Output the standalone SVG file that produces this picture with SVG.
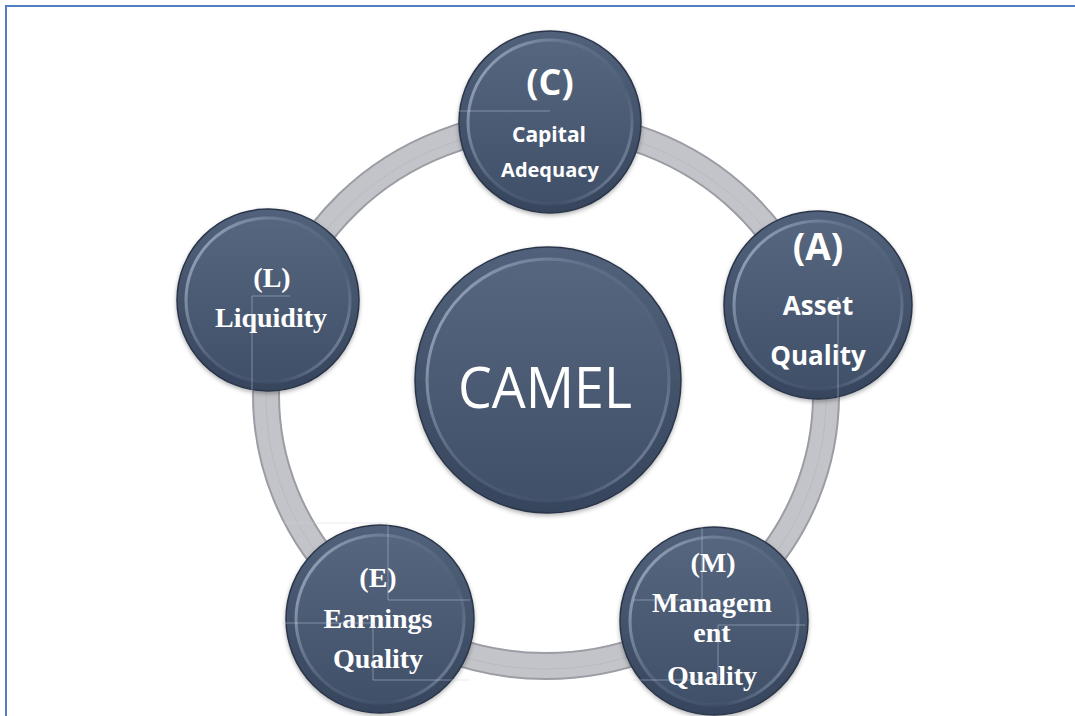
<svg xmlns="http://www.w3.org/2000/svg" width="1075" height="716" viewBox="0 0 1075 716">
  <defs>
    <linearGradient id="face" x1="0" y1="0" x2="0" y2="1">
      <stop offset="0" stop-color="#56667f"/>
      <stop offset="1" stop-color="#405069"/>
    </linearGradient>
    <linearGradient id="rim" x1="0" y1="0" x2="0" y2="1">
      <stop offset="0" stop-color="#52627b"/>
      <stop offset="1" stop-color="#36455c"/>
    </linearGradient>
    <linearGradient id="bevel" x1="0" y1="0.2" x2="1" y2="0.8">
      <stop offset="0" stop-color="#b4c2d4" stop-opacity="0.75"/>
      <stop offset="0.4" stop-color="#8696ae" stop-opacity="0.3"/>
      <stop offset="0.75" stop-color="#6d7d96" stop-opacity="0.15"/>
      <stop offset="1" stop-color="#a8b6ca" stop-opacity="0.65"/>
    </linearGradient>
    <filter id="shadow" x="-20%" y="-20%" width="140%" height="140%">
      <feDropShadow dx="0" dy="2" stdDeviation="2" flood-color="#000" flood-opacity="0.3"/>
    </filter>
  </defs>
  <style>
    .frame { fill: none; stroke: #4f7ec2; stroke-width: 2; }
    .rimc { fill: url(#rim); stroke: #2b3649; stroke-width: 1.5; filter: url(#shadow); }
    .bev { fill: none; stroke: url(#bevel); stroke-width: 3; }
    .facec { fill: url(#face); }
    .sans { font-family: "Open Sans", "Liberation Sans", sans-serif; font-weight: bold; fill: #ffffff; text-anchor: middle; }
    .serif { font-family: "Liberation Serif", "DejaVu Serif", serif; font-weight: bold; fill: #ffffff; text-anchor: middle; font-size: 28px; }
    .grid { stroke: #c9d2de; stroke-width: 1; fill: none; opacity: 0.45; }
  </style>

  <rect x="0" y="0" width="1075" height="716" fill="#ffffff"/>
  <rect class="frame" x="6" y="6" width="1100" height="760"/>

  <!-- grey ring linking the five factors -->
  <g id="connectors">
    <ellipse cx="546" cy="395" rx="280" ry="271" fill="none" stroke="#9b9da4" stroke-width="28"/>
    <ellipse cx="546" cy="395" rx="280" ry="271" fill="none" stroke="#c3c4c9" stroke-width="24"/>
    <ellipse cx="546" cy="398" rx="280" ry="271" fill="none" stroke="#b2b4ba" stroke-width="1" opacity="0.6"/>
  </g>

  <g id="node-camel">
    <circle class="rimc" cx="548" cy="380" r="133"/>
    <circle class="facec" cx="548" cy="380" r="120"/>
    <circle class="bev" cx="548" cy="380" r="121"/>
    <text x="545" y="408" font-family="Open Sans, Liberation Sans, sans-serif" font-size="56" fill="#ffffff" text-anchor="middle" textLength="174" lengthAdjust="spacingAndGlyphs">CAMEL</text>
  </g>

  <g id="node-c">
    <circle class="rimc" cx="550" cy="122" r="91"/>
    <circle class="facec" cx="550" cy="122" r="81"/>
    <circle class="bev" cx="550" cy="122" r="82"/>
    <text class="sans" x="550" y="95" font-size="36">(C)</text>
    <text class="sans" x="549" y="142" font-size="21">Capital</text>
    <text class="sans" x="550" y="177" font-size="20">Adequacy</text>
  </g>

  <g id="node-a">
    <circle class="rimc" cx="818" cy="305" r="94"/>
    <circle class="facec" cx="818" cy="305" r="83"/>
    <circle class="bev" cx="818" cy="305" r="84"/>
    <text class="sans" x="818" y="260" font-size="37">(A)</text>
    <text class="sans" x="818" y="315" font-size="26">Asset</text>
    <text class="sans" x="818" y="365" font-size="26">Quality</text>
  </g>

  <g id="node-m">
    <circle class="rimc" cx="714" cy="621" r="94"/>
    <circle class="facec" cx="714" cy="621" r="83"/>
    <circle class="bev" cx="714" cy="621" r="84"/>
    <text class="serif" x="713" y="572">(M)</text>
    <text class="serif" x="712" y="612">Managem</text>
    <text class="serif" x="712" y="642">ent</text>
    <text class="serif" x="712" y="685">Quality</text>
  </g>

  <g id="node-e">
    <circle class="rimc" cx="380" cy="619" r="94"/>
    <circle class="facec" cx="380" cy="619" r="83"/>
    <circle class="bev" cx="380" cy="619" r="84"/>
    <text class="serif" x="378" y="587">(E)</text>
    <text class="serif" x="378" y="628">Earnings</text>
    <text class="serif" x="378" y="668">Quality</text>
  </g>

  <g id="node-l">
    <circle class="rimc" cx="268" cy="300" r="91"/>
    <circle class="facec" cx="268" cy="300" r="81"/>
    <circle class="bev" cx="268" cy="300" r="82"/>
    <text class="serif" x="272" y="287">(L)</text>
    <text class="serif" x="271" y="327">Liquidity</text>
  </g>

  <!-- faint layout rules left over in the artwork -->
  <g id="rules">
    <path class="grid" d="M458 111H550"/>
    <path class="grid" d="M838 297V400"/>
    <path class="grid" d="M252 296H290M252 296V400"/>
    <path class="grid" d="M283 523H388V600H470"/>
    <path class="grid" d="M282 623H373V680H470"/>
    <path class="grid" d="M702 525V600H633"/>
    <path class="grid" d="M805 625H718V680H633"/>
  </g>
</svg>
